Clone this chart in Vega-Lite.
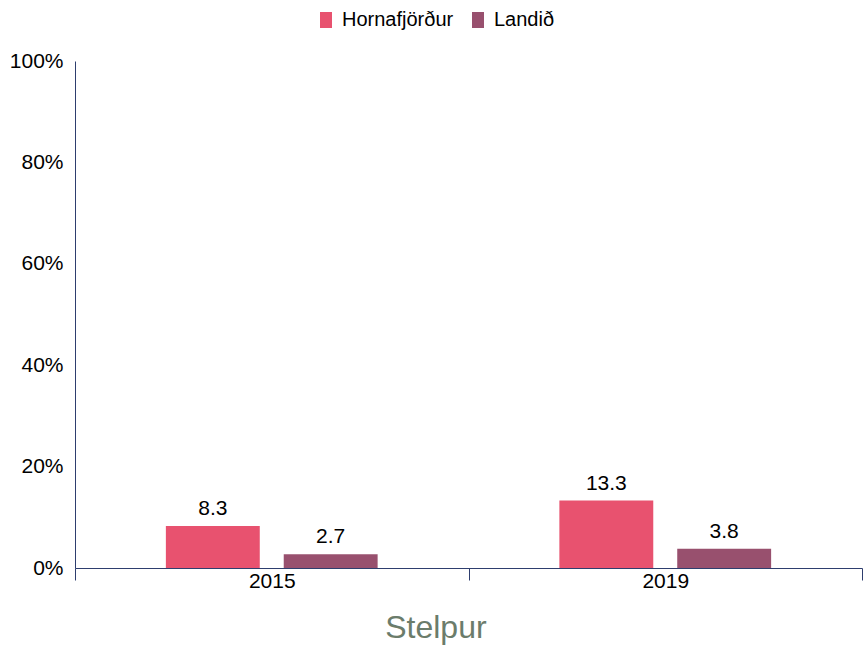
{
  "$schema": "https://vega.github.io/schema/vega-lite/v6.json",
  "width": 787,
  "height": 507,
  "autosize": {"type": "none"},
  "padding": {"left": 75, "top": 61, "right": 1, "bottom": 77},
  "background": "white",
  "config": {
    "font": "Liberation Sans",
    "view": {"stroke": null}
  },
  "title": {
    "text": "Stelpur",
    "orient": "bottom",
    "anchor": "middle",
    "frame": "bounds",
    "fontSize": 32,
    "fontWeight": "normal",
    "color": "#6b7c6b",
    "offset": 22
  },
  "data": {
    "values": [
      {"year": "2015", "group": "Hornafjörður", "value": 8.3},
      {"year": "2015", "group": "Landið", "value": 2.7},
      {"year": "2019", "group": "Hornafjörður", "value": 13.3},
      {"year": "2019", "group": "Landið", "value": 3.8}
    ]
  },
  "encoding": {
    "x": {
      "field": "year",
      "type": "nominal",
      "scale": {"paddingInner": 0, "paddingOuter": 0},
      "axis": {
        "title": null,
        "labelAngle": 0,
        "labelFontSize": 21,
        "labelColor": "#000000",
        "domainColor": "#2e3e6e",
        "tickColor": "#2e3e6e",
        "tickBand": "extent",
        "tickSize": 12,
        "labelPadding": -10
      }
    },
    "xOffset": {
      "field": "group",
      "type": "nominal",
      "scale": {"paddingInner": 0.2034, "paddingOuter": 0.771}
    },
    "y": {
      "field": "value",
      "type": "quantitative",
      "scale": {"domain": [0, 100]},
      "axis": {
        "title": null,
        "values": [0, 20, 40, 60, 80, 100],
        "labelExpr": "datum.value + '%'",
        "labelFontSize": 21,
        "labelColor": "#000000",
        "grid": false,
        "ticks": false,
        "labelPadding": 12,
        "domainColor": "#2e3e6e"
      }
    }
  },
  "layer": [
    {
      "mark": {"type": "bar"},
      "encoding": {
        "color": {
          "field": "group",
          "type": "nominal",
          "scale": {"domain": ["Hornafjörður", "Landið"], "range": ["#e8526f", "#98506e"]},
          "legend": {
            "title": null,
            "orient": "none",
            "legendX": 241,
            "legendY": -51,
            "padding": 0,
            "direction": "horizontal",
            "labelFontSize": 20,
            "labelColor": "#000000",
            "symbolType": "M-0.75,-1H0.75V1H-0.75Z",
            "symbolSize": 256,
            "symbolStrokeWidth": 0,
            "symbolOpacity": 1,
            "labelOffset": 6,
            "columnPadding": 14
          }
        }
      }
    },
    {
      "mark": {"type": "text", "baseline": "alphabetic", "dy": -11, "fontSize": 21, "color": "#000000"},
      "encoding": {
        "text": {"field": "value", "type": "quantitative", "format": ".1f"}
      }
    }
  ]
}
